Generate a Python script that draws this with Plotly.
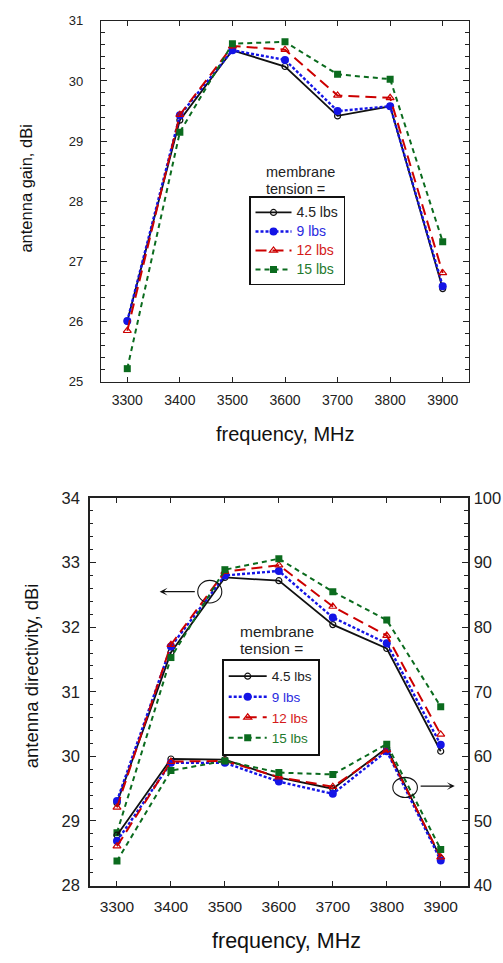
import plotly.graph_objects as go

# ---------------- data ----------------
freq = [3300, 3400, 3500, 3600, 3700, 3800, 3900]
tension_labels = ["4.5 lbs", "9 lbs", "12 lbs", "15 lbs"]

# antenna gain, dBi (top chart)
gain_45 = [26.01, 29.35, 30.51, 30.24, 29.42, 29.58, 26.55]
gain_9 = [26.01, 29.43, 30.51, 30.35, 29.50, 29.58, 26.59]
gain_12 = [25.85, 29.44, 30.58, 30.52, 29.76, 29.72, 26.81]
gain_15 = [25.22, 29.15, 30.62, 30.65, 30.11, 30.03, 27.33]

# antenna directivity, dBi (bottom chart, left axis)
dir_45 = [29.28, 31.61, 32.77, 32.72, 32.04, 31.67, 30.08]
dir_9 = [29.31, 31.70, 32.80, 32.87, 32.15, 31.75, 30.18]
dir_12 = [29.21, 31.73, 32.86, 32.96, 32.32, 31.87, 30.34]
dir_15 = [28.82, 31.53, 32.89, 33.06, 32.55, 32.11, 30.77]

# efficiency (bottom chart, right axis)
eff_45 = [47.8, 59.6, 59.5, 56.7, 55.0, 61.3, 44.2]
eff_9 = [46.9, 59.0, 59.0, 56.1, 54.2, 60.8, 43.9]
eff_12 = [46.1, 59.2, 59.3, 56.8, 55.3, 61.0, 44.4]
eff_15 = [43.8, 57.8, 59.3, 57.5, 57.2, 61.9, 45.6]

gain_series = [gain_45, gain_9, gain_12, gain_15]
dir_series = [dir_45, dir_9, dir_12, dir_15]
eff_series = [eff_45, eff_9, eff_12, eff_15]

# ---------------- styles ----------------
FONT = "Liberation Sans, Arial, sans-serif"
TXT = "#222222"
styles = [
    dict(color="#111111", dash="solid", width=1.8, symbol="circle-open", size=6, mlw=1.2, text="#222222"),
    dict(color="#1414e6", dash="3px,2px", width=2.4, symbol="circle", size=8, mlw=0, text="#2a2ae0"),
    dict(color="#cc0000", dash="11px,6px", width=2.0, symbol="triangle-up-open", size=7, mlw=1.2, text="#d41a1a"),
    dict(color="#0b6b1e", dash="5px,4px", width=2.0, symbol="square", size=7, mlw=0, text="#1f7a2e"),
]

W, H = 503, 963


def px_x(p):
    return p / W


def px_y(p):
    return 1 - p / H


fig = go.Figure()

for i, (lab, st) in enumerate(zip(tension_labels, styles)):
    name = f'<span style="color:{st["text"]};font-size:14px">{lab}</span>'
    fig.add_trace(go.Scatter(
        x=freq, y=gain_series[i], mode="lines+markers", name=name,
        xaxis="x", yaxis="y", legend="legend",
        line=dict(color=st["color"], dash=st["dash"], width=st["width"]),
        marker=dict(symbol=st["symbol"], size=st["size"], color=st["color"],
                    line=dict(color=st["color"], width=st["mlw"])),
    ))

for i, (lab, st) in enumerate(zip(tension_labels, styles)):
    name = f'<span style="color:{st["text"]}">{lab}</span>'
    fig.add_trace(go.Scatter(
        x=freq, y=dir_series[i], mode="lines+markers", name=name,
        xaxis="x2", yaxis="y2", legend="legend2",
        line=dict(color=st["color"], dash=st["dash"], width=st["width"]),
        marker=dict(symbol=st["symbol"], size=st["size"], color=st["color"],
                    line=dict(color=st["color"], width=st["mlw"])),
    ))
    fig.add_trace(go.Scatter(
        x=freq, y=eff_series[i], mode="lines+markers", name=name,
        xaxis="x2", yaxis="y3", showlegend=False,
        line=dict(color=st["color"], dash=st["dash"], width=st["width"]),
        marker=dict(symbol=st["symbol"], size=st["size"], color=st["color"],
                    line=dict(color=st["color"], width=st["mlw"])),
    ))

axis_common = dict(showgrid=False, zeroline=False, showline=True, linecolor="#222222",
                   ticks="inside", tickcolor="#222222", tickwidth=1)

fig.update_layout(
    width=W, height=H, autosize=False,
    margin=dict(l=0, r=0, t=0, b=0),
    paper_bgcolor="white", plot_bgcolor="white",
    font=dict(family=FONT, color=TXT),
    xaxis=dict(domain=[px_x(101), px_x(469)], anchor="y", range=[3250, 3950],
               tickvals=freq, ticklen=5, mirror="ticks", linewidth=1.3,
               tickfont=dict(size=14, color=TXT), ticklabelstandoff=5, **axis_common),
    yaxis=dict(domain=[px_y(380), px_y(12)], anchor="x", range=[25, 31],
               tick0=25, dtick=1, ticklen=6, mirror="ticks", linewidth=1.3,
               minor=dict(ticks="inside", dtick=0.2, ticklen=3.5, tickcolor="#222222", tickwidth=1),
               tickfont=dict(size=13, color=TXT), ticklabelstandoff=14, **axis_common),
    xaxis2=dict(domain=[px_x(90), px_x(467.7)], anchor="y2", range=[3250, 3950],
                tickvals=freq, ticklen=5, mirror="ticks", linewidth=1.6,
                tickfont=dict(size=15.5, color=TXT), ticklabelstandoff=6, **axis_common),
    yaxis2=dict(domain=[px_y(893.3), px_y(498.3)], anchor="x2", range=[28, 34],
                tick0=28, dtick=1, ticklen=6, mirror=True, linewidth=1.6,
                minor=dict(ticks="inside", dtick=0.2, ticklen=3.5, tickcolor="#222222", tickwidth=1),
                tickfont=dict(size=16.5, color=TXT), ticklabelstandoff=5, **axis_common),
    yaxis3=dict(overlaying="y2", anchor="x2", side="right", range=[40, 100],
                tick0=40, dtick=10, ticklen=6,
                minor=dict(ticks="inside", dtick=2, ticklen=3.5, tickcolor="#222222", tickwidth=1),
                showgrid=False, zeroline=False, showline=False, ticks="inside",
                tickcolor="#222222", tickwidth=1,
                tickfont=dict(size=16.5, color=TXT), ticklabelstandoff=5),
    legend=dict(x=px_x(249), y=px_y(191), xanchor="left", yanchor="top",
                bordercolor="#111111", borderwidth=1.5, bgcolor="white",
                font=dict(size=11.5, family=FONT), itemwidth=36, tracegroupgap=0),
    legend2=dict(x=px_x(221.7), y=px_y(662.3), xanchor="left", yanchor="top",
                 bordercolor="#111111", borderwidth=2, bgcolor="white",
                 font=dict(size=13.5, family=FONT), itemwidth=38, tracegroupgap=0),
    showlegend=True,
)

ann = []
# legend headings
ann.append(dict(text="membrane", x=px_x(264), y=px_y(166), xref="paper", yref="paper",
                xanchor="left", yanchor="middle", showarrow=False, font=dict(size=14.5, color=TXT)))
ann.append(dict(text="tension =", x=px_x(264), y=px_y(183), xref="paper", yref="paper",
                xanchor="left", yanchor="middle", showarrow=False, font=dict(size=14.5, color=TXT)))
ann.append(dict(text="membrane", x=px_x(237.7), y=px_y(634), xref="paper", yref="paper",
                xanchor="left", yanchor="middle", showarrow=False, font=dict(size=15.5, color=TXT)))
ann.append(dict(text="tension =", x=px_x(237.7), y=px_y(651.7), xref="paper", yref="paper",
                xanchor="left", yanchor="middle", showarrow=False, font=dict(size=15.5, color=TXT)))
# axis titles
ann.append(dict(text="frequency, MHz", x=px_x(285), y=px_y(433), xref="paper", yref="paper",
                xanchor="center", yanchor="middle", showarrow=False, font=dict(size=20, color="#111")))
ann.append(dict(text="frequency, MHz", x=px_x(286), y=px_y(950), xref="paper", yref="paper",
                xanchor="center", yanchor="middle", showarrow=False, font=dict(size=21.5, color="#111")))
ann.append(dict(text="antenna gain, dBi", x=px_x(26), y=px_y(183), xref="paper", yref="paper",
                xanchor="center", yanchor="middle", textangle=-90, showarrow=False,
                font=dict(size=16.5, color="#111")))
ann.append(dict(text="antenna directivity, dBi", x=px_x(31), y=px_y(680), xref="paper", yref="paper",
                xanchor="center", yanchor="middle", textangle=-90, showarrow=False,
                font=dict(size=18.5, color="#111")))
# arrows indicating axes
ann.append(dict(text="", x=3379, y=32.55, ax=3447, ay=32.55, xref="x2", yref="y2",
                axref="x2", ayref="y2", showarrow=True, arrowhead=3, arrowsize=1.1,
                arrowwidth=1.2, arrowcolor="#111"))
ann.append(dict(text="", x=3926, y=55.4, ax=3860, ay=55.4, xref="x2", yref="y3",
                axref="x2", ayref="y3", showarrow=True, arrowhead=3, arrowsize=1.1,
                arrowwidth=1.2, arrowcolor="#111"))
fig.update_layout(annotations=ann)

fig.add_shape(type="circle", xref="x2", yref="y2", x0=3472 - 22.3, x1=3472 + 22.3,
              y0=32.55 - 0.175, y1=32.55 + 0.175, line=dict(color="#111", width=1.1))
fig.add_shape(type="circle", xref="x2", yref="y3", x0=3834 - 22.8, x1=3834 + 22.8,
              y0=55.2 - 1.56, y1=55.2 + 1.56, line=dict(color="#111", width=1.1))

fig.write_html("out.html")
